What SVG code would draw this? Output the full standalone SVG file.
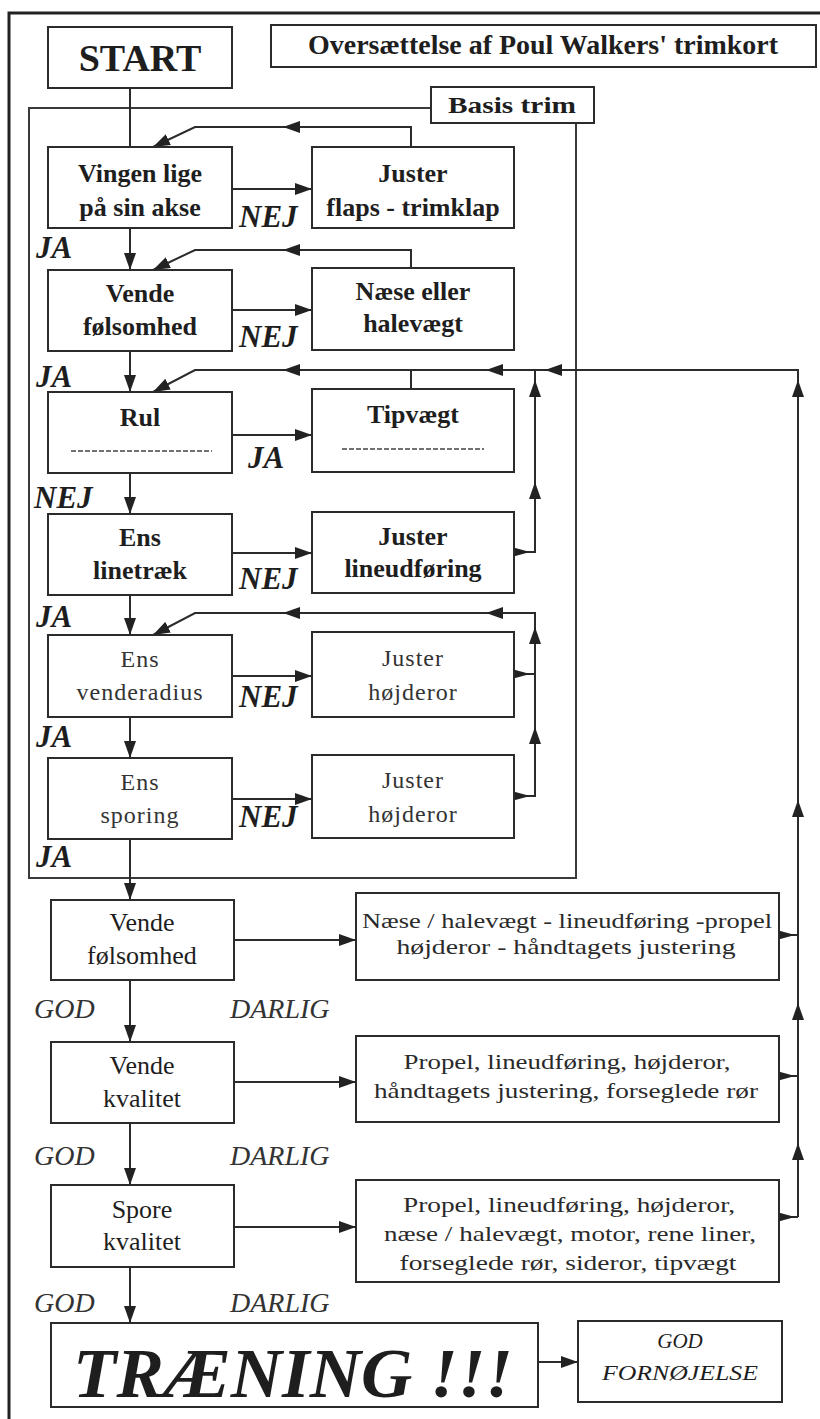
<svg xmlns="http://www.w3.org/2000/svg" width="820" height="1419" viewBox="0 0 820 1419">
<style>
.bx{fill:#fff;stroke:#2b2b2b;stroke-width:2}
.fr{fill:none;stroke:#3a3a3a;stroke-width:2}
.ln{fill:none;stroke:#2b2b2b;stroke-width:2}
.ah{fill:#222;stroke:none}
.t{font-family:"Liberation Serif","Times New Roman",serif;fill:#1e1e1e;text-anchor:middle}
.b{font-weight:bold}
.tb{font-family:"Liberation Serif","Times New Roman",serif;fill:#1e1e1e;text-anchor:middle;font-weight:bold;font-size:26px}
.tn{font-family:"Liberation Serif","Times New Roman",serif;fill:#333;text-anchor:middle;font-size:24px;letter-spacing:1px}
.lab{font-family:"Liberation Serif","Times New Roman",serif;fill:#1e1e1e;font-weight:bold;font-style:italic;font-size:31px}
.lab2{font-family:"Liberation Serif","Times New Roman",serif;fill:#333;font-style:italic;font-size:28px}
.tl{font-family:"Liberation Serif","Times New Roman",serif;fill:#2a2a2a;text-anchor:middle;font-size:21px}
.dash{stroke:#444;stroke-width:1.5;stroke-dasharray:5 2}
</style>
<defs>
<marker id="arr" markerUnits="userSpaceOnUse" markerWidth="18" markerHeight="12" refX="17" refY="6" orient="auto">
<path d="M0,0 L17,6 L0,12 z" fill="#222"/>
</marker>
</defs>
<rect x="0" y="0" width="820" height="1419" fill="#fff"/>
<path d="M9,1419 V13 H820" fill="none" stroke="#222" stroke-width="3"/>

<g id="frame-basis">
<rect class="fr" x="29" y="108" width="547" height="770"/>
</g>

<g id="connectors">
<path class="ln" d="M130,88 V147"/>
<path class="ln" d="M130,228 V270" marker-end="url(#arr)"/>
<path class="ln" d="M130,351 V392" marker-end="url(#arr)"/>
<path class="ln" d="M130,473 V514" marker-end="url(#arr)"/>
<path class="ln" d="M130,595 V635" marker-end="url(#arr)"/>
<path class="ln" d="M130,717 V758" marker-end="url(#arr)"/>
<path class="ln" d="M130,839 V900" marker-end="url(#arr)"/>
<path class="ln" d="M130,980 V1042" marker-end="url(#arr)"/>
<path class="ln" d="M130,1123 V1185" marker-end="url(#arr)"/>
<path class="ln" d="M130,1267 V1323" marker-end="url(#arr)"/>
<path class="ln" d="M232,189 H312" marker-end="url(#arr)"/>
<path class="ln" d="M232,310 H312" marker-end="url(#arr)"/>
<path class="ln" d="M232,435 H312" marker-end="url(#arr)"/>
<path class="ln" d="M232,553 H312" marker-end="url(#arr)"/>
<path class="ln" d="M232,676 H312" marker-end="url(#arr)"/>
<path class="ln" d="M232,799 H312" marker-end="url(#arr)"/>
<path class="ln" d="M234,940 H356" marker-end="url(#arr)"/>
<path class="ln" d="M234,1082 H356" marker-end="url(#arr)"/>
<path class="ln" d="M234,1227 H356" marker-end="url(#arr)"/>
<path class="ln" d="M538,1362 H578" marker-end="url(#arr)"/>
<path class="ln" d="M411,147 V127 H195 L153,147" marker-end="url(#arr)"/>
<path class="ln" d="M411,268 V250 H195 L153,270" marker-end="url(#arr)"/>
<path class="ln" d="M798,1217 V370 H195 L153,392" marker-end="url(#arr)"/>
<path class="ln" d="M411,389 V370"/>
<path class="ln" d="M514,552 H535 V370"/>
<path class="ln" d="M514,796 H535 V613 H195 L153,635" marker-end="url(#arr)"/>
<path class="ln" d="M514,674 H535"/>
<path class="ln" d="M779,935 H798"/>
<path class="ln" d="M779,1076 H798"/>
<path class="ln" d="M779,1217 H798"/>
<polygon class="ah" points="283,127 300,121 300,133"/>
<polygon class="ah" points="283,250 300,244 300,256"/>
<polygon class="ah" points="283,370 300,364 300,376"/>
<polygon class="ah" points="486,370 503,364 503,376"/>
<polygon class="ah" points="545,370 562,364 562,376"/>
<polygon class="ah" points="283,613 300,607 300,619"/>
<polygon class="ah" points="486,613 503,607 503,619"/>
<polygon class="ah" points="535,380 529,397 541,397"/>
<polygon class="ah" points="535,482 529,499 541,499"/>
<polygon class="ah" points="535,627 529,644 541,644"/>
<polygon class="ah" points="535,727 529,744 541,744"/>
<polygon class="ah" points="798,380 792,397 804,397"/>
<polygon class="ah" points="798,800 792,817 804,817"/>
<polygon class="ah" points="798,1003 792,1020 804,1020"/>
<polygon class="ah" points="798,1143 792,1160 804,1160"/>
<polygon class="ah" points="508,546 508,558 530,552"/>
<polygon class="ah" points="508,668 508,680 530,674"/>
<polygon class="ah" points="508,790 508,802 530,796"/>
<polygon class="ah" points="773,929 773,941 795,935"/>
<polygon class="ah" points="773,1070 773,1082 795,1076"/>
<polygon class="ah" points="773,1211 773,1223 795,1217"/>
</g>

<g id="start">
<rect class="bx" x="48" y="27" width="184" height="61"/>
<text class="t b" x="140" y="71" font-size="38">START</text>
</g>
<g id="title">
<rect class="bx" x="271" y="25" width="545" height="42"/>
<text class="t b" x="543" y="54" font-size="27" textLength="470" lengthAdjust="spacingAndGlyphs">Oversættelse af Poul Walkers' trimkort</text>
</g>
<g id="basis-label">
<rect class="bx" x="431" y="87" width="163" height="36"/>
<text class="t b" x="512" y="113" font-size="24" textLength="128" lengthAdjust="spacingAndGlyphs">Basis trim</text>
</g>

<g id="vingen">
<rect class="bx" x="48" y="147" width="184" height="81"/>
<text class="tb" x="140" y="182">Vingen lige</text>
<text class="tb" x="140" y="216">på sin akse</text>
</g>
<g id="juster-flaps">
<rect class="bx" x="312" y="147" width="202" height="81"/>
<text class="tb" x="413" y="182">Juster</text>
<text class="tb" x="413" y="216">flaps - trimklap</text>
</g>
<g id="vende1">
<rect class="bx" x="48" y="270" width="184" height="81"/>
<text class="tb" x="140" y="302">Vende</text>
<text class="tb" x="140" y="335">følsomhed</text>
</g>
<g id="naese">
<rect class="bx" x="312" y="268" width="202" height="82"/>
<text class="tb" x="413" y="300">Næse eller</text>
<text class="tb" x="413" y="332">halevægt</text>
</g>
<g id="rul">
<rect class="bx" x="48" y="392" width="184" height="81"/>
<text class="tb" x="140" y="426">Rul</text>
<line class="dash" x1="71" y1="451" x2="212" y2="451"/>
</g>
<g id="tipvaegt">
<rect class="bx" x="312" y="389" width="202" height="83"/>
<text class="tb" x="413" y="423">Tipvægt</text>
<line class="dash" x1="342" y1="449" x2="484" y2="449"/>
</g>
<g id="linetraek">
<rect class="bx" x="48" y="514" width="184" height="81"/>
<text class="tb" x="140" y="546">Ens</text>
<text class="tb" x="140" y="579">linetræk</text>
</g>
<g id="lineudforing">
<rect class="bx" x="312" y="512" width="202" height="81"/>
<text class="tb" x="413" y="545">Juster</text>
<text class="tb" x="413" y="577">lineudføring</text>
</g>
<g id="venderadius">
<rect class="bx" x="48" y="635" width="184" height="82"/>
<text class="tn" x="140" y="667">Ens</text>
<text class="tn" x="140" y="700">venderadius</text>
</g>
<g id="hojderor1">
<rect class="bx" x="312" y="632" width="202" height="85"/>
<text class="tn" x="413" y="666">Juster</text>
<text class="tn" x="413" y="700">højderor</text>
</g>
<g id="sporing">
<rect class="bx" x="48" y="758" width="184" height="81"/>
<text class="tn" x="140" y="790">Ens</text>
<text class="tn" x="140" y="823">sporing</text>
</g>
<g id="hojderor2">
<rect class="bx" x="312" y="755" width="202" height="83"/>
<text class="tn" x="413" y="788">Juster</text>
<text class="tn" x="413" y="822">højderor</text>
</g>

<g id="labels-upper">
<text class="lab" x="239" y="227">NEJ</text>
<text class="lab" x="36" y="258">JA</text>
<text class="lab" x="239" y="347">NEJ</text>
<text class="lab" x="36" y="387">JA</text>
<text class="lab" x="248" y="468">JA</text>
<text class="lab" x="34" y="508">NEJ</text>
<text class="lab" x="239" y="589">NEJ</text>
<text class="lab" x="36" y="627">JA</text>
<text class="lab" x="239" y="707" fill="#333">NEJ</text>
<text class="lab" x="36" y="747">JA</text>
<text class="lab" x="239" y="827" fill="#444">NEJ</text>
<text class="lab" x="36" y="867">JA</text>
</g>

<g id="vende2">
<rect class="bx" x="51" y="900" width="183" height="80"/>
<text class="t" x="142" y="931" font-size="26">Vende</text>
<text class="t" x="142" y="964" font-size="26">følsomhed</text>
</g>
<g id="fix1">
<rect class="bx" x="356" y="893" width="423" height="87"/>
<text class="tl" x="567" y="928" fill="#666" textLength="410" lengthAdjust="spacingAndGlyphs">Næse / halevægt - lineudføring -propel</text>
<text class="tl" x="566" y="954" fill="#666" textLength="339" lengthAdjust="spacingAndGlyphs">højderor - håndtagets justering</text>
</g>
<g id="vende-kvalitet">
<rect class="bx" x="51" y="1042" width="183" height="81"/>
<text class="t" x="142" y="1074" font-size="26">Vende</text>
<text class="t" x="142" y="1107" font-size="26">kvalitet</text>
</g>
<g id="fix2">
<rect class="bx" x="356" y="1036" width="423" height="86"/>
<text class="tl" x="567" y="1069" textLength="327" lengthAdjust="spacingAndGlyphs">Propel, lineudføring, højderor,</text>
<text class="tl" x="566" y="1098" textLength="384" lengthAdjust="spacingAndGlyphs">håndtagets justering, forseglede rør</text>
</g>
<g id="spore-kvalitet">
<rect class="bx" x="51" y="1185" width="183" height="82"/>
<text class="t" x="142" y="1218" font-size="26">Spore</text>
<text class="t" x="142" y="1250" font-size="26">kvalitet</text>
</g>
<g id="fix3">
<rect class="bx" x="356" y="1180" width="423" height="102"/>
<text class="tl" x="569" y="1212" textLength="332" lengthAdjust="spacingAndGlyphs">Propel, lineudføring, højderor,</text>
<text class="tl" x="570" y="1241" textLength="372" lengthAdjust="spacingAndGlyphs">næse / halevægt, motor, rene liner,</text>
<text class="tl" x="568" y="1270" textLength="337" lengthAdjust="spacingAndGlyphs">forseglede rør, sideror, tipvægt</text>
</g>

<g id="labels-lower">
<text class="lab2" x="34" y="1018">GOD</text>
<text class="lab2" x="230" y="1018">DARLIG</text>
<text class="lab2" x="34" y="1165">GOD</text>
<text class="lab2" x="230" y="1165">DARLIG</text>
<text class="lab2" x="34" y="1312">GOD</text>
<text class="lab2" x="230" y="1312">DARLIG</text>
</g>

<g id="traening">
<rect class="bx" x="51" y="1323" width="487" height="84"/>
<text class="t b" x="293" y="1397" font-size="70" font-style="italic" textLength="440" lengthAdjust="spacingAndGlyphs">TRÆNING !!!</text>
</g>
<g id="god-fornojelse">
<rect class="bx" x="578" y="1321" width="204" height="81"/>
<text class="t" x="680" y="1348" font-size="21" font-style="italic" fill="#444">GOD</text>
<text class="t" x="680" y="1380" font-size="21" font-style="italic" fill="#444" textLength="156" lengthAdjust="spacingAndGlyphs">FORNØJELSE</text>
</g>
</svg>
